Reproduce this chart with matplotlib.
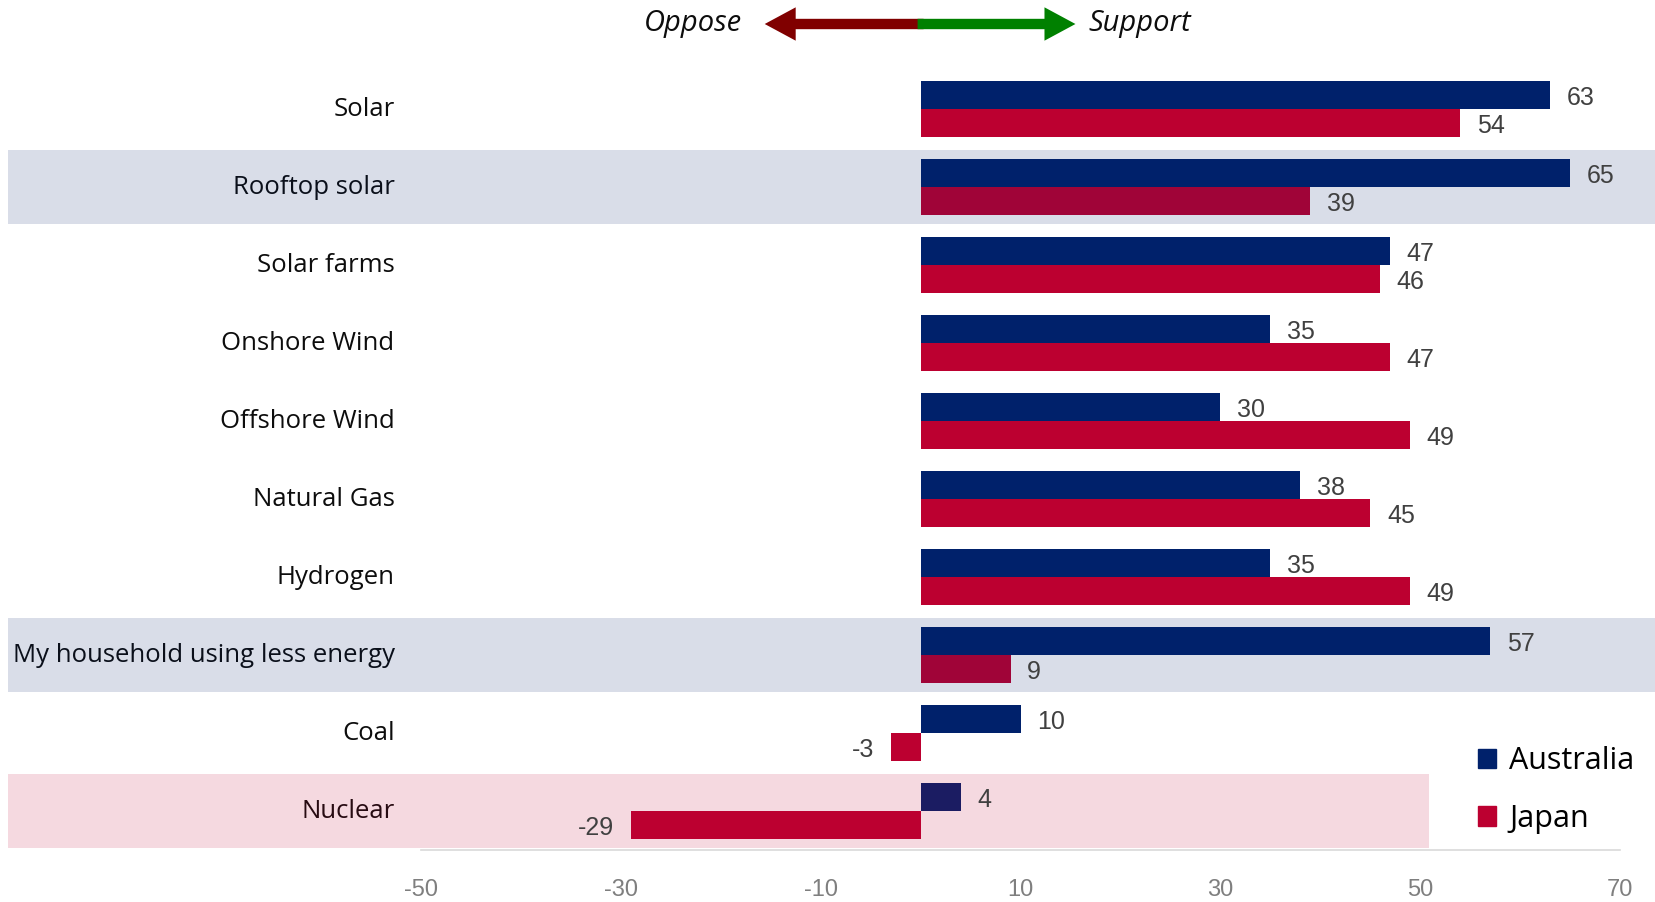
import numpy as np
import matplotlib.pyplot as plt
from matplotlib.patches import FancyArrow, Patch
import matplotlib.transforms as mtransforms

categories = ["Solar", "Rooftop solar", "Solar farms", "Onshore Wind", "Offshore Wind",
              "Natural Gas", "Hydrogen", "My household using less energy", "Coal", "Nuclear"]
australia = [63, 65, 47, 35, 30, 38, 35, 57, 10, 4]
japan = [54, 39, 46, 47, 49, 45, 49, 9, -3, -29]
xticks = [-50, -30, -10, 10, 30, 50, 70]

navy = "#00216B"
red = "#BC0030"
label_font = "Open Sans"
num_font = "Liberation Sans"

fig = plt.figure(figsize=(16.55, 9.02), dpi=100)
ax = fig.add_axes([421 / 1655, 1 - 850 / 902, 1199 / 1655, 780 / 902])

y = np.arange(len(categories))
h = 0.36
ax.barh(y - h / 2, australia, height=h, color=navy, zorder=2)
ax.barh(y + h / 2, japan, height=h, color=red, zorder=2)

# value labels
for yy, v in zip(y - h / 2, australia):
    ax.annotate(str(v), (v, yy), xytext=(12 if v >= 0 else -12, -2), textcoords="offset points",
                ha="left" if v >= 0 else "right", va="center", fontsize=18,
                family=num_font, color="#404040", zorder=5)
for yy, v in zip(y + h / 2, japan):
    ax.annotate(str(v), (v, yy), xytext=(12 if v >= 0 else -12, -2), textcoords="offset points",
                ha="left" if v >= 0 else "right", va="center", fontsize=18,
                family=num_font, color="#404040", zorder=5)

ax.set_xlim(-50, 70)
ax.set_ylim(len(categories) - 0.5, -0.5)
ax.set_xticks(xticks)
ax.set_xticklabels([str(t) for t in xticks], family=num_font, fontsize=17, color="#7F7F7F")
ax.set_yticks(y)
ax.set_yticklabels(categories, family=label_font, fontsize=18.5, color="#0D0D0D", va="center")
ax.tick_params(axis="y", length=0, pad=19)
ax.tick_params(axis="x", length=0, pad=21)
for s in ["top", "right", "left"]:
    ax.spines[s].set_visible(False)
ax.spines["bottom"].set_color("#D9D9D9")
ax.spines["bottom"].set_linewidth(1.2)

# highlighted rows (overlay, drawn on top)
tr = mtransforms.blended_transform_factory(ax.transAxes, ax.transData)
left = (8 - 421) / 1199
for idx, col, right in [(1, navy, (1655 - 421) / 1199), (7, navy, (1655 - 421) / 1199),
                        (9, red, (1429 - 421) / 1199)]:
    ax.add_patch(plt.Rectangle((left, idx - 0.48), right - left, 0.96, transform=tr,
                               color=col, alpha=0.15, lw=0, clip_on=False, zorder=4))

# oppose / support arrow
ta = mtransforms.blended_transform_factory(ax.transData, fig.transFigure)
ya = 1 - 24 / 902
ax.add_patch(FancyArrow(0.3, ya, -15.9, 0, width=0.0115, head_width=0.037, head_length=3.1,
                        length_includes_head=True, color="#800000", lw=0, transform=ta, clip_on=False))
ax.add_patch(FancyArrow(-0.3, ya, 15.8, 0, width=0.0115, head_width=0.037, head_length=3.1,
                        length_includes_head=True, color="#008000", lw=0, transform=ta, clip_on=False))
ax.text(-17.9, ya, "Oppose", transform=ta, ha="right", va="center", fontsize=21,
        style="italic", family=label_font, color="#0D0D0D")
ax.text(16.8, ya, "Support", transform=ta, ha="left", va="center", fontsize=21,
        style="italic", family=label_font, color="#0D0D0D")

handles = [Patch(color=navy, label="Australia"), Patch(color=red, label="Japan")]
leg = fig.legend(handles=handles, loc="center left", bbox_to_anchor=(1450 / 1655, 1 - 790 / 902),
                 frameon=False, handlelength=0.62, handleheight=0.62, handletextpad=0.42,
                 labelspacing=0.9, prop={"family": label_font, "size": 22})

fig.savefig("out.png", dpi=100)
